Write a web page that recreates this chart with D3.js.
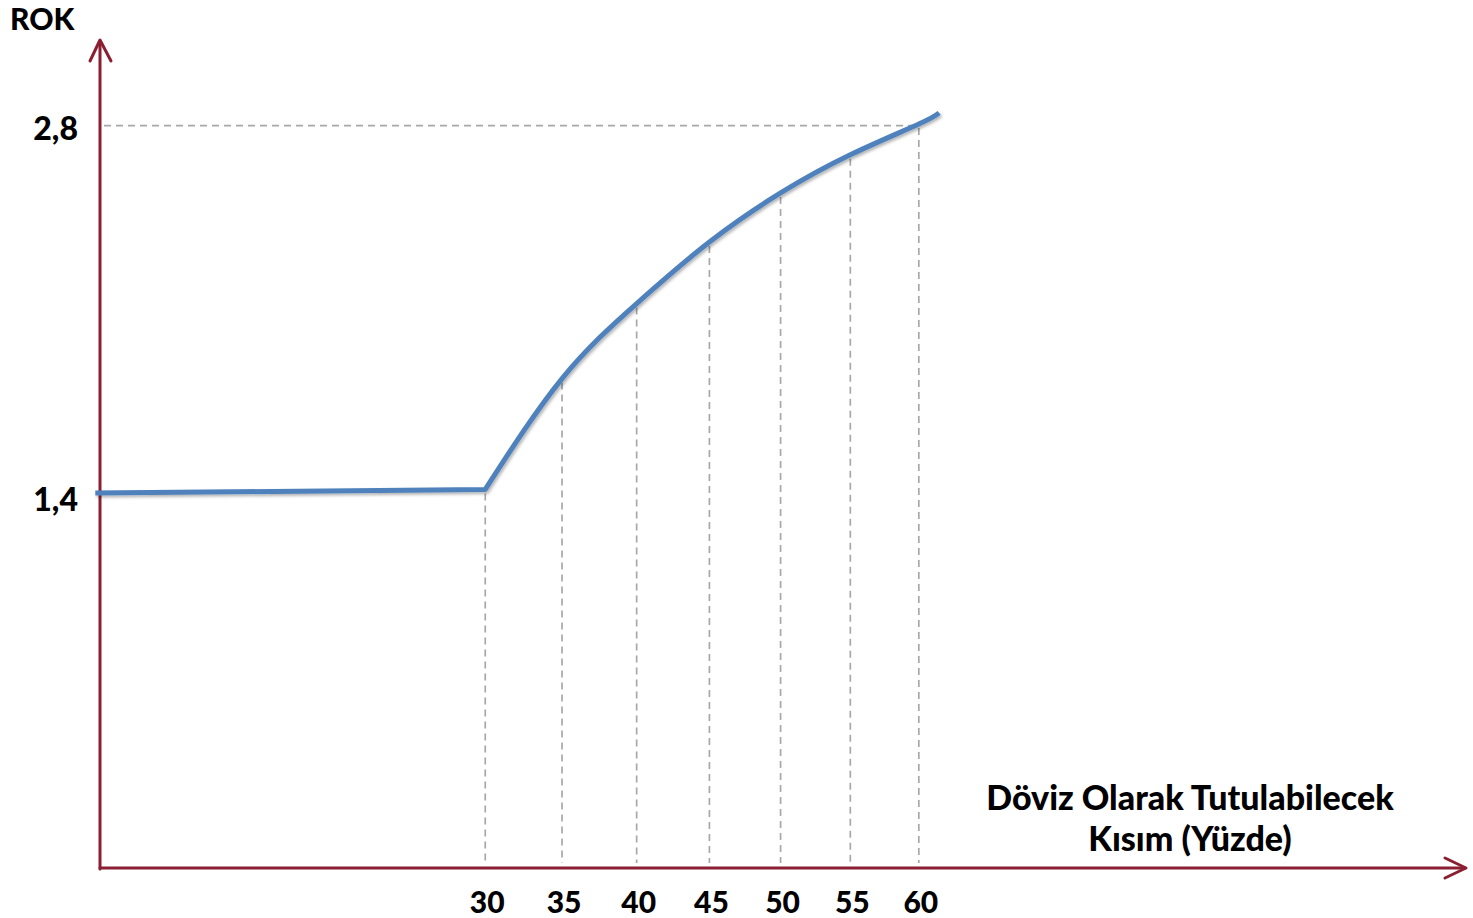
<!DOCTYPE html>
<html>
<head>
<meta charset="utf-8">
<script src="https://cdn.jsdelivr.net/npm/d3@7"></script>
<style>
  html, body { margin: 0; padding: 0; background: #ffffff; }
  svg { display: block; }
  text { font-family: Lato, "Open Sans", sans-serif; font-weight: 900; fill: #000; }
</style>
</head>
<body>
<svg id="chart" width="1473" height="918"></svg>
<script>
// ---- data ----
const xTicks = [30, 35, 40, 45, 50, 55, 60];
const yTicks = [1.4, 2.8];
const flatX = [7.6, 30];
const flatY = [1.414, 1.428];
const curveX = [30, 35, 40, 45, 50, 55, 60, 61.5];
const curveY = [1.428, 1.846, 2.129, 2.361, 2.546, 2.690, 2.806, 2.848];
const guideValues = [1.428, 1.846, 2.129, 2.361, 2.546, 2.690, 2.806]; // curve level at each x tick
const yTitle = "ROK";
const xTitleLines = ["Döviz Olarak Tutulabilecek", "Kısım (Yüzde)"];

// ---- layout ----
const mLeft = 100, mRight = 1466, mBottom = 868, mTop = 40;
const axisColor = "#8B1F32";
const lineColor = "#4F81BD";
const guideColor = "#A8A8A8";

const svg = d3.select("#chart");

const x = d3.scalePow().exponent(0.8).domain([7.83, 102.7]).range([mLeft, mRight]);
const y = d3.scaleLinear().domain([0, 3.123]).range([mBottom, mTop]);

const fmt = d3.formatLocale({decimal: ",", thousands: ".", grouping: [3], currency: ["", ""]}).format(".1f");

// drop shadow for the data line
const defs = svg.append("defs");
const f = defs.append("filter").attr("id", "shadow").attr("x", "-5%").attr("y", "-5%").attr("width", "110%").attr("height", "120%");
f.append("feDropShadow").attr("dx", 1.5).attr("dy", 2).attr("stdDeviation", 1.5)
  .attr("flood-color", "#000").attr("flood-opacity", 0.3);

// ---- guide lines ----
const g = svg.append("g");
g.append("line")
  .attr("x1", mLeft + 4).attr("x2", x(60))
  .attr("y1", y(2.8)).attr("y2", y(2.8))
  .attr("stroke", guideColor).attr("stroke-width", 1.7).attr("stroke-dasharray", "7,5");

g.selectAll("line.v").data(xTicks).join("line")
  .attr("class", "v")
  .attr("x1", d => x(d)).attr("x2", d => x(d))
  .attr("y1", (d, i) => y(guideValues[i]) + 4)
  .attr("y2", mBottom - 5)
  .attr("stroke", guideColor).attr("stroke-width", 1.7).attr("stroke-dasharray", "7,5");

// ---- axes ----
const ax = svg.append("g").attr("stroke", axisColor).attr("stroke-width", 3).attr("fill", "none")
  .attr("stroke-linecap", "round").attr("stroke-linejoin", "round");
ax.append("line").attr("x1", mLeft).attr("x2", mLeft).attr("y1", mBottom + 1).attr("y2", mTop + 1);
ax.append("line").attr("x1", mLeft).attr("x2", mRight - 1).attr("y1", mBottom).attr("y2", mBottom);
// arrow heads
ax.append("path").attr("d", `M${mLeft - 10},${mTop + 21} L${mLeft},${mTop} L${mLeft + 11},${mTop + 21}`);
ax.append("path").attr("d", `M${mRight - 21},${mBottom - 10} L${mRight},${mBottom} L${mRight - 21},${mBottom + 10}`);

// ---- data line ----
const flat = flatX.map((d, i) => [d, flatY[i]]);
const curve = curveX.map((d, i) => [d, curveY[i]]);
const lineLin = d3.line().x(d => x(d[0])).y(d => y(d[1]));
const lineCurve = d3.line().x(d => x(d[0])).y(d => y(d[1])).curve(d3.curveNatural);
const pathD = lineLin(flat) + "L" + lineCurve(curve).slice(1);

svg.append("path").attr("d", pathD)
  .attr("filter", "url(#shadow)")
  .attr("fill", "none").attr("stroke", lineColor).attr("stroke-width", 5)
  .attr("stroke-linejoin", "round").attr("stroke-linecap", "butt");

// ---- labels ----
svg.append("g").selectAll("text").data(yTicks).join("text")
  .attr("x", mLeft - 22).attr("y", d => y(d) + 14)
  .attr("text-anchor", "end")
  .attr("font-size", 32).text(d => fmt(d));

svg.append("g").selectAll("text").data(xTicks).join("text")
  .attr("x", d => x(d) + 2).attr("y", mBottom + 45)
  .attr("text-anchor", "middle")
  .attr("font-size", 30).text(d => d);

svg.append("text").attr("x", 10).attr("y", 30).attr("font-size", 30).text(yTitle);

svg.append("g").selectAll("text").data(xTitleLines).join("text")
  .attr("x", 1190).attr("y", (d, i) => 810 + i * 41)
  .attr("text-anchor", "middle").attr("font-size", 34).text(d => d);
</script>
</body>
</html>
